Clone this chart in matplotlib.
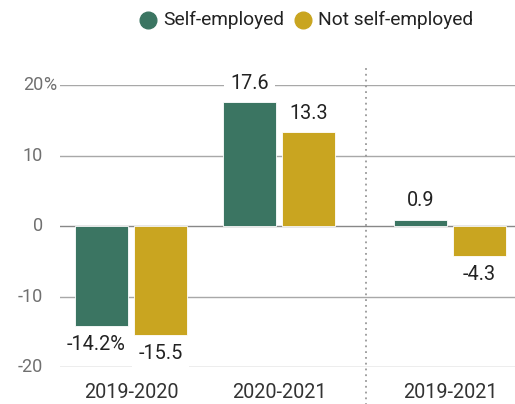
import numpy as np
import matplotlib
matplotlib.use("Agg")
import matplotlib.pyplot as plt
from matplotlib.lines import Line2D

plt.rcParams['font.family'] = ['Roboto', 'DejaVu Sans']

# percent change by period
periods = ['2019-2020', '2020-2021', '2019-2021']
self_employed = [-14.2, 17.6, 0.9]
not_self_employed = [-15.5, 13.3, -4.3]
yticks = [20, 10, 0, -10, -20]

GREEN = '#3b7562'
GOLD = '#c9a520'

W, H = 515, 404
fig = plt.figure(figsize=(W / 100, H / 100), dpi=100)

# axes box in pixels: left 60, right 515, top 85 (20%), bottom 367 (-20)
ax = fig.add_axes([60 / W, (H - 367) / H, 455 / W, 282 / H])
ax.set_ylim(-20, 20)
ax.set_xlim(-0.48, 2.595)

x = np.array([0, 1, 2.155])
bw = 0.358
off = 0.199

ax.bar(x - off, self_employed, bw, color=GREEN, edgecolor='white', linewidth=0.6, zorder=3)
ax.bar(x + off, not_self_employed, bw, color=GOLD, edgecolor='white', linewidth=0.6, zorder=3)

# gridlines
for t in yticks:
    ax.axhline(t, color='#888888' if t == 0 else '#a8a8a8', lw=1.0, zorder=1)

for s in ax.spines.values():
    s.set_visible(False)
ax.set_xticks([])
ax.set_yticks([])

# y tick labels, with the % sign hanging past the numbers
ytr = ax.get_yaxis_transform()
for t in yticks:
    ax.annotate(str(t), xy=(0, t), xycoords=ytr,
                xytext=(-12.3, 0), textcoords='offset points',
                ha='right', va='center', fontsize=13, color='#707070')
ax.annotate('%', xy=(0, 20), xycoords=ytr, xytext=(-12.3, 0), textcoords='offset points',
            ha='left', va='center', fontsize=13, color='#707070')

# value labels
def label_bars(xs, vals, pct_first=False):
    for i, (xi, v) in enumerate(zip(xs, vals)):
        txt = f'{v:.1f}'
        dx = 0
        if pct_first and i == 0:
            txt += '%'
            dx = -4
        dy = 13.5 if v >= 0 else -13
        ax.annotate(txt, xy=(xi, v), xytext=(dx, dy), textcoords='offset points',
                    ha='center', va='center', fontsize=14.3, color='#222222', zorder=5,
                    bbox=dict(boxstyle='square,pad=0.3', fc='white', ec='none'))

label_bars(x - off, self_employed, pct_first=True)
label_bars(x + off, not_self_employed)

# category labels
for xi, p in zip(x, periods):
    ax.text(xi, -0.092, p, transform=ax.get_xaxis_transform(), ha='center', va='center',
            fontsize=14.3, color='#333333')

# dotted divider before the two-year change
ax.axvline(1.588, ymin=-0.135, ymax=1.067, color='#999999', lw=1.3,
           linestyle=(0, (1, 2.2)), clip_on=False, zorder=2)

# legend
for cx, tx, col, lab in [(148, 163, GREEN, 'Self-employed'),
                         (303, 318, GOLD, 'Not self-employed')]:
    fig.add_artist(Line2D([cx / W], [(H - 20) / H], marker='o', markersize=12,
                          color=col, linestyle='none', transform=fig.transFigure))
    fig.text(tx / W, (H - 20) / H, lab, ha='left', va='center', fontsize=13.8, color='#222222')

fig.savefig('out.png', dpi=100)
